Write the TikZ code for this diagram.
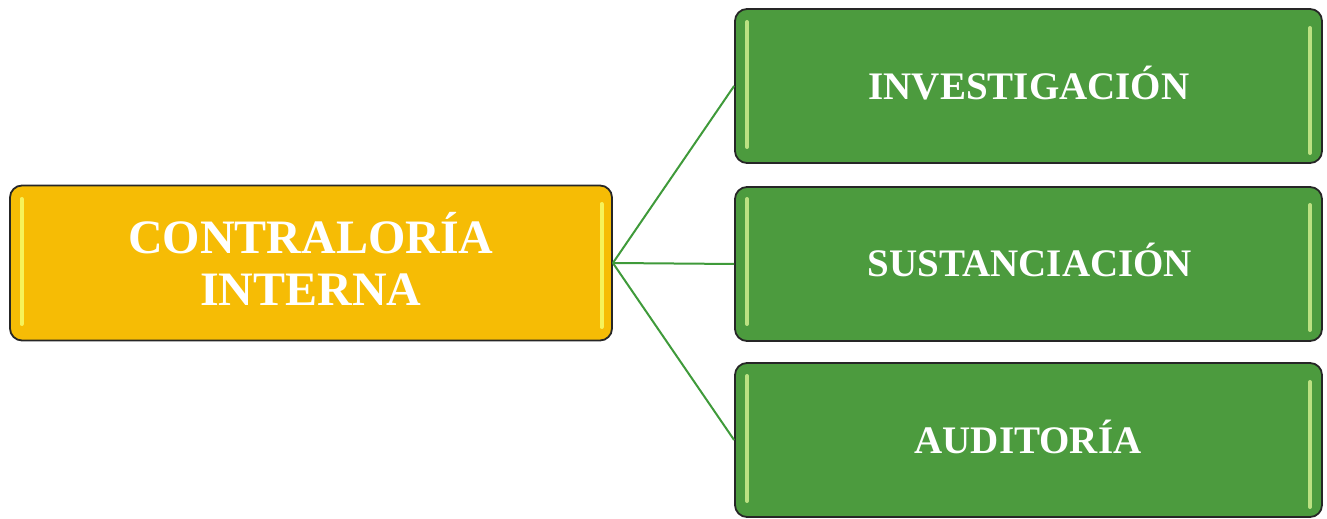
\documentclass[tikz,border=0pt]{standalone}
\usepackage{fontspec}
\setmainfont{Liberation Serif}
\definecolor{boxyellow}{HTML}{F6BC05}
\definecolor{boxgreen}{HTML}{4C9B3E}
\definecolor{linegreen}{HTML}{3F9A3A}
\definecolor{hiyellow}{HTML}{F6F25A}
\definecolor{higreen}{HTML}{C9E98A}
\tikzset{
  x=1pt,y=1pt,
  basebox/.style={draw=black!85, line width=1.8pt, rounded corners=12pt, inner sep=0pt, anchor=center},
  rootbox/.style={basebox, fill=boxyellow, minimum width=602pt, minimum height=155pt},
  leafbox/.style={basebox, fill=boxgreen, minimum width=587pt, minimum height=154pt},
  rootlabel/.style={text=white, font=\bfseries\fontsize{48}{52}\selectfont, align=center},
  leaflabel/.style={text=white, font=\bfseries\fontsize{39}{42}\selectfont, align=center},
  link/.style={draw=linegreen, line width=2pt},
  shine/.style={line width=4pt, line cap=round}
}
\begin{document}
\begin{tikzpicture}
\useasboundingbox (0,0) rectangle (1327,519);
% boxes (y measured from top: y_tikz = 519 - y_img)
\node[rootbox] (root) at (311,256) {};
\node[leafbox] (inv) at (1028.5,433) {};
\node[leafbox] (sus) at (1028.5,255) {};
\node[leafbox] (aud) at (1028.5,79) {};
% highlight stripes
\draw[shine, hiyellow] (21.5,320) -- (21.5,195);
\draw[shine, hiyellow] (601.5,315) -- (601.5,192);
\draw[shine, higreen!90!boxgreen] (747,497) -- (747,372);
\draw[shine, higreen!90!boxgreen] (1310,491) -- (1310,366);
\draw[shine, higreen!90!boxgreen] (747,320) -- (747,195);
\draw[shine, higreen!90!boxgreen] (1310,314) -- (1310,189);
\draw[shine, higreen!90!boxgreen] (747,143) -- (747,18);
\draw[shine, higreen!90!boxgreen] (1310,137) -- (1310,12);
% labels
\node[rootlabel] (rootlabel) at (311,260) {CONTRALORÍA\\INTERNA};
\node[leaflabel] (invlabel) at (1029,436) {INVESTIGACIÓN};
\node[leaflabel] (suslabel) at (1030,259) {SUSTANCIACIÓN};
\node[leaflabel] (audlabel) at (1028,82) {AUDITORÍA};
% connectors
\draw[link] (root.east) -- (inv.west);
\draw[link] (root.east) -- (sus.west);
\draw[link] (root.east) -- (aud.west);
\end{tikzpicture}
\end{document}
